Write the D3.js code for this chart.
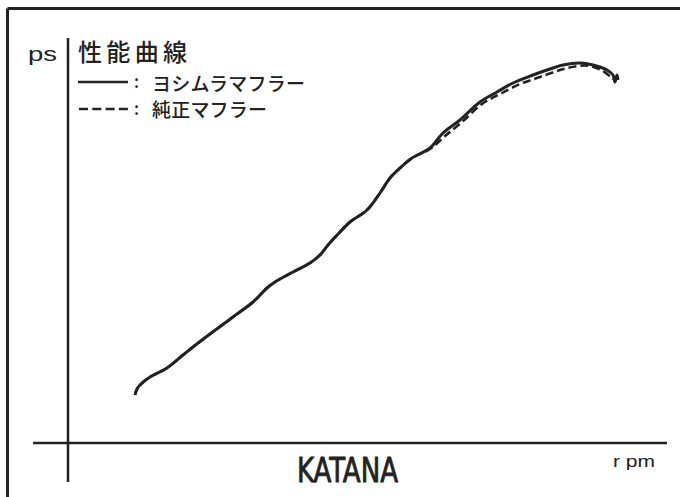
<!DOCTYPE html>
<html><head><meta charset="utf-8">
<script src="https://cdn.jsdelivr.net/npm/d3@7"></script>
<style>html,body{margin:0;padding:0;background:#fff;}svg{display:block;}</style>
</head><body>
<script>
// Data (arbitrary rpm / ps units, no ticks shown)
const yoshimuraRpm = [68,70,73,83,100,116,135,166,186,200,208,226,243,253,261,273,283,300,313,323,333,345,363,376,393,413,430,446,466,480,496,513,526,540,546,548,550,551];
const yoshimuraPs  = [47,53,57,65,74,87,102,125,140,154,160,170,179,187,197,210,220,232,249,264,274,284,294,309,322,340,350,359,367,372,377,379,377,372,367,360,367,362];
const stockRpm = [68,70,73,83,100,116,135,166,186,200,208,226,243,253,261,273,283,300,313,323,333,345,363,378,395,415,433,453,473,493,511,523,536,545,548];
const stockPs  = [47,53,57,65,74,87,102,125,140,154,160,170,179,187,197,210,220,232,249,264,274,284,293,306,320,338,348,358,365,372,376,376,371,364,362];
const legendLabels = ["ヨシムラマフラー","純正マフラー"];
const titleText = "性能曲線";
const yLabel = "ps", xLabel = "r pm", modelName = "KATANA";

const W = 680, H = 497;
const svg = d3.select("body").append("svg").attr("width", W).attr("height", H);
const x = d3.scaleLinear().domain([0, 600]).range([67, 667]);
const y = d3.scaleLinear().domain([0, 400]).range([442, 42]);

// frame (top and left edges)
svg.append("line").attr("x1",7.5).attr("x2",W).attr("y1",8.5).attr("y2",8.5).attr("stroke","#222").attr("stroke-width",3);
svg.append("line").attr("x1",7.5).attr("x2",7.5).attr("y1",8.5).attr("y2",H).attr("stroke","#222").attr("stroke-width",3);

// axes
svg.append("line").attr("x1",x(0)+1).attr("x2",x(0)+1).attr("y1",38).attr("y2",482).attr("stroke","#222").attr("stroke-width",2.5);
svg.append("line").attr("x1",33).attr("x2",667).attr("y1",443).attr("y2",443).attr("stroke","#222").attr("stroke-width",2.5);

const line = d3.line().x(d=>x(d[0])).y(d=>y(d[1])).curve(d3.curveCatmullRom.alpha(0.5));
const solid = yoshimuraRpm.map((r,i)=>[r, yoshimuraPs[i]]);
const dashed = stockRpm.map((r,i)=>[r, stockPs[i]]);
svg.append("path").attr("d", line(dashed)).attr("fill","none").attr("stroke","#222").attr("stroke-width",2.6).attr("stroke-dasharray","8,4");
svg.append("path").attr("d", line(solid)).attr("fill","none").attr("stroke","#222").attr("stroke-width",3).attr("stroke-linejoin","round");

// texts
const jp = "'Noto Sans CJK JP', sans-serif";
svg.append("text").attr("x",28).attr("y",61).text(yLabel).attr("font-family","'Liberation Sans', Arial, sans-serif").attr("font-size",20).attr("textLength",29).attr("lengthAdjust","spacingAndGlyphs").attr("fill","#222");
svg.append("text").attr("x",78).attr("y",61).text(titleText).attr("font-family",jp).attr("font-size",24).attr("font-weight",500).attr("textLength",109).attr("fill","#222");

svg.append("line").attr("x1",78).attr("x2",128).attr("y1",82).attr("y2",82).attr("stroke","#222").attr("stroke-width",2.5);
svg.append("line").attr("x1",79).attr("x2",128).attr("y1",109).attr("y2",109).attr("stroke","#222").attr("stroke-width",2.5).attr("stroke-dasharray","9,4.3");
[82,109].forEach(cy=>{
  svg.append("text").attr("x",134).attr("y",cy+6).text(":").attr("font-family",jp).attr("font-size",17).attr("font-weight",500).attr("fill","#222");
});
svg.append("text").attr("x",152).attr("y",91).text(legendLabels[0]).attr("font-family",jp).attr("font-size",19).attr("font-weight",500).attr("textLength",153).attr("fill","#222");
svg.append("text").attr("x",152).attr("y",117).text(legendLabels[1]).attr("font-family",jp).attr("font-size",19).attr("font-weight",500).attr("textLength",115).attr("fill","#222");

svg.append("text").attr("x",297).attr("y",482).text(modelName).attr("font-family","'DejaVu Sans Condensed', 'Liberation Sans Narrow', sans-serif").attr("font-size",33).attr("textLength",101).attr("lengthAdjust","spacingAndGlyphs").attr("fill","#222").attr("stroke","#222").attr("stroke-width",0.8);
svg.append("text").attr("x",613).attr("y",467).text(xLabel).attr("font-family","'Liberation Sans', Arial, sans-serif").attr("font-size",17).attr("textLength",42).attr("lengthAdjust","spacingAndGlyphs").attr("fill","#222");
</script>
</body></html>
